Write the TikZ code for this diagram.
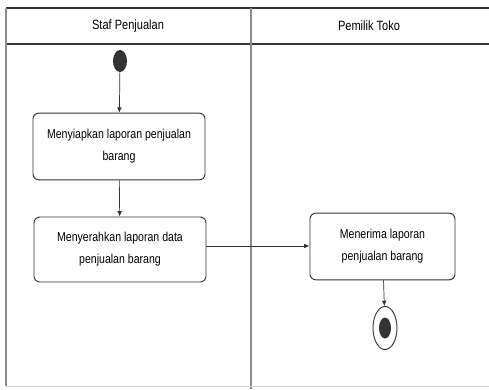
\documentclass[tikz,border=0pt]{standalone}
\usepackage{fontspec}
\setmainfont{Liberation Sans}[FakeStretch=0.82]
\usetikzlibrary{arrows.meta,positioning,shapes.geometric}
\definecolor{Line}{HTML}{333333}
\definecolor{Lane}{HTML}{8C8C8C}

\begin{document}
\begin{tikzpicture}[x=0.03cm,y=-0.03cm,
    act/.style={rounded corners=5pt,draw=Line,thick,fill=white,
      minimum height=2.0cm,align=center,font=\fontsize{11}{19}\selectfont},
    arr/.style={-{Latex[length=1.6mm,width=1.4mm]},Line,semithick},
    lane/.style={draw=Lane,line width=0.9pt},
    hline/.style={draw=Line,line width=0.9pt},
    lanetitle/.style={font=\fontsize{11.5}{13}\selectfont}
  ]
    \useasboundingbox (0,0) rectangle (489,389);
    % swimlanes
    \draw[hline] (6,8) -- (489,8);
    \draw[hline] (6,44) -- (489,44);
    \draw[lane] (6,8) -- (6,386);
    \draw[lane] (251,8) -- (251,389);
    \draw[draw=Lane!40] (6,386) -- (489,386);
    \node[lanetitle] (staf) at (128,26) {Staf Penjualan};
    \node[lanetitle] (pemilik) at (369,26) {Pemilik Toko};
    % activities
    \node[ellipse,fill=Line,minimum width=14*0.03cm,minimum height=22*0.03cm,
      inner sep=0pt] (start) at (120,61) {};
    \node[act,minimum width=5.16cm] (siapkan) at (119,146.5)
      {Menyiapkan laporan penjualan\\barang};
    \node[act,minimum width=5.16cm,minimum height=1.95cm] (serahkan) at (120,249.5)
      {Menyerahkan laporan data\\penjualan barang};
    \node[act,minimum width=4.35cm] (terima) at (382.5,246.5)
      {Menerima laporan\\penjualan barang};
    \node[ellipse,draw=Line,thick,fill=white,minimum width=24*0.03cm,
      minimum height=43*0.03cm,inner sep=0pt] (finish) at (385,328) {};
    \node[ellipse,fill=Line,minimum width=12*0.03cm,minimum height=21*0.03cm,
      inner sep=0pt] (finishdot) at (finish.center) {};
    % flows
    \draw[arr] (start) -- (siapkan);
    \draw[arr] (siapkan) -- (serahkan);
    \draw[arr,thick] (serahkan.east |- 0,246) -- (terima.west |- 0,246);
    \draw[arr] (terima) -- (finish);
\end{tikzpicture}
\end{document}
